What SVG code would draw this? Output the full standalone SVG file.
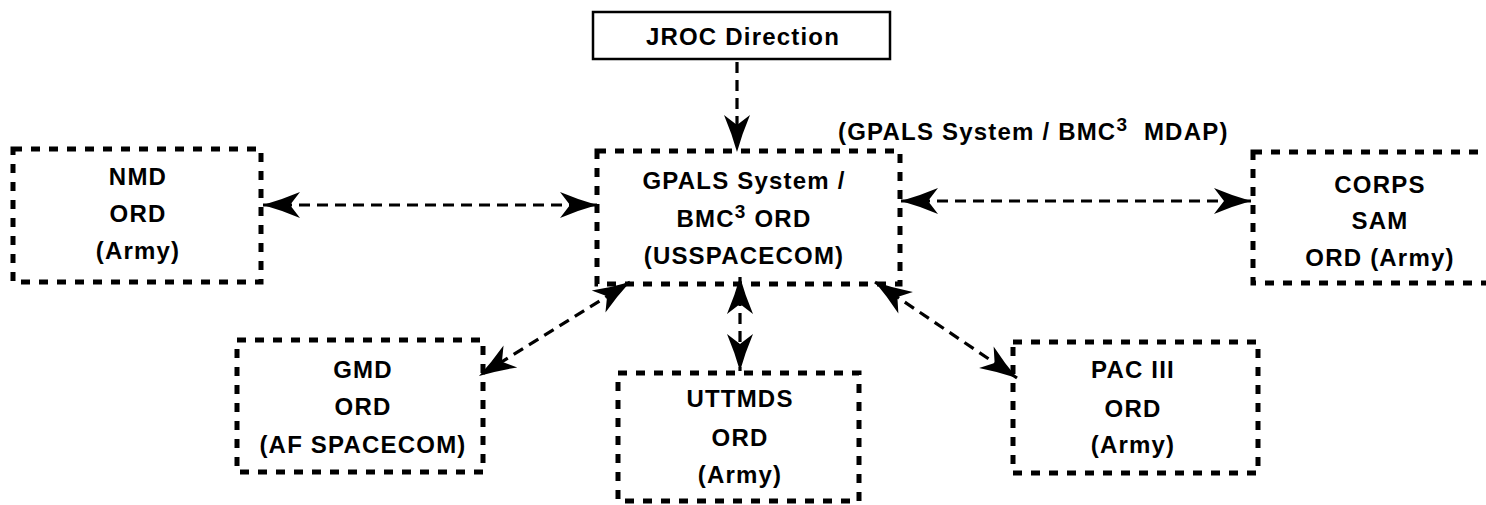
<svg xmlns="http://www.w3.org/2000/svg" width="1486" height="505" viewBox="0 0 1486 505">
<style>
.box{fill:none;stroke:#000;stroke-width:5;stroke-dasharray:9 9}
.solid{fill:#fff;stroke:#000;stroke-width:2.5}
.t{font-family:"Liberation Sans",Arial,sans-serif;font-weight:bold;font-size:24px;letter-spacing:1.2px;text-anchor:middle;fill:#000}
.lbl{font-family:"Liberation Sans",Arial,sans-serif;font-weight:bold;font-size:24px;letter-spacing:1.2px;fill:#000}
.sup{font-size:19px}
.c{fill:none;stroke:#000;stroke-width:3.2;stroke-dasharray:11 7}
</style>
<defs>
<marker id="ah" viewBox="-38 -14 39 28" markerWidth="39" markerHeight="28" refX="0" refY="0" orient="auto-start-reverse" markerUnits="userSpaceOnUse">
<path d="M0,0 Q-18,-5 -37,-13 L-27,0 L-37,13 Q-18,5 0,0 Z" fill="#000"/>
</marker>
</defs>
<rect width="1486" height="505" fill="#fff"/>
<g id="connectors">
<line class="c" x1="737" y1="62" x2="737" y2="152" marker-end="url(#ah)"/>
<line class="c" x1="263" y1="205" x2="597" y2="205" marker-start="url(#ah)" marker-end="url(#ah)"/>
<line class="c" x1="901" y1="201" x2="1251" y2="201" marker-start="url(#ah)" marker-end="url(#ah)"/>
<line class="c" x1="630" y1="282" x2="479" y2="376" marker-start="url(#ah)" marker-end="url(#ah)"/>
<line class="c" x1="740" y1="277" x2="740" y2="371" marker-start="url(#ah)" marker-end="url(#ah)"/>
<line class="c" x1="875" y1="282" x2="1017" y2="378" marker-start="url(#ah)" marker-end="url(#ah)"/>
</g>
<g id="jroc">
<rect class="solid" x="593" y="12" width="297" height="47"/>
<text class="t" x="743" y="45">JROC Direction</text>
</g>
<g id="gpals">
<rect class="box" x="597" y="151" width="303" height="133"/>
<text class="t" x="744" y="189">GPALS System /</text>
<text class="t" x="744" y="227">BMC<tspan class="sup" dy="-9">3</tspan><tspan dy="9"> ORD</tspan></text>
<text class="t" x="744" y="264">(USSPACECOM)</text>
</g>
<g id="mdap-label">
<text class="lbl" x="838" y="140">(GPALS System / BMC<tspan class="sup" dy="-9">3</tspan><tspan dy="9">&#160; MDAP)</tspan></text>
</g>
<g id="nmd">
<rect class="box" x="13" y="149" width="248" height="133"/>
<text class="t" x="138" y="185">NMD</text>
<text class="t" x="138" y="222">ORD</text>
<text class="t" x="138" y="259">(Army)</text>
</g>
<g id="corps">
<rect class="box" x="1253" y="152" width="260" height="131"/>
<text class="t" x="1380" y="193">CORPS</text>
<text class="t" x="1380" y="229">SAM</text>
<text class="t" x="1380" y="266">ORD (Army)</text>
</g>
<g id="gmd">
<rect class="box" x="237" y="340" width="246" height="132"/>
<text class="t" x="363" y="378">GMD</text>
<text class="t" x="363" y="415">ORD</text>
<text class="t" x="363" y="453">(AF SPACECOM)</text>
</g>
<g id="uttmds">
<rect class="box" x="618" y="373" width="241" height="128"/>
<text class="t" x="740" y="407">UTTMDS</text>
<text class="t" x="740" y="446">ORD</text>
<text class="t" x="740" y="483">(Army)</text>
</g>
<g id="pac3">
<rect class="box" x="1013" y="342" width="245" height="131"/>
<text class="t" x="1133" y="378">PAC III</text>
<text class="t" x="1133" y="417">ORD</text>
<text class="t" x="1133" y="453">(Army)</text>
</g>
</svg>
